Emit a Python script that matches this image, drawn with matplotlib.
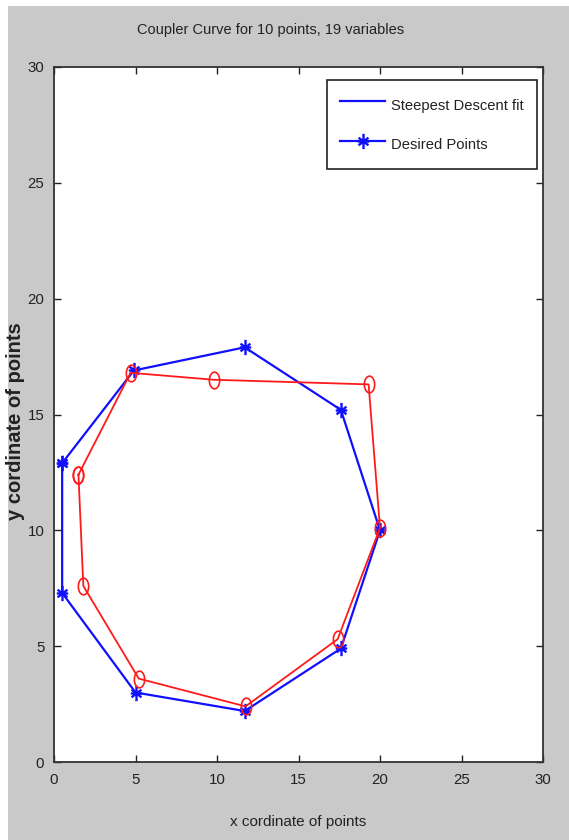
import matplotlib
matplotlib.use('Agg')
import matplotlib.pyplot as plt
import numpy as np
from matplotlib.lines import Line2D
from matplotlib.patches import Rectangle
from matplotlib.path import Path

# Desired points (blue, closed loop)
desired_x = [0.5, 4.9, 11.7, 17.6, 20.0, 17.6, 11.7, 5.0, 0.5, 0.5]
desired_y = [12.9, 16.9, 17.9, 15.2, 10.0, 4.9, 2.2, 3.0, 7.3, 12.9]

# Steepest descent fit (red, closed loop)
fit_x = [1.5, 4.7, 9.8, 19.3, 20.0, 17.4, 11.75, 5.2, 1.8, 1.5]
fit_y = [12.4, 16.8, 16.5, 16.3, 10.1, 5.3, 2.4, 3.6, 7.6, 12.4]

ticks = [0, 5, 10, 15, 20, 25, 30]
legend_labels = ['Steepest Descent fit', 'Desired Points']

font = ['Liberation Sans', 'DejaVu Sans']
grey = '#c9c9c9'
txt = '#222222'

fig = plt.figure(figsize=(5.69, 8.40), dpi=100)
fig.patch.set_facecolor('white')
# grey figure area (white strip on top and left as in the screenshot)
fig.patches.append(Rectangle((8 / 569, 0), 1, (840 - 6) / 840, transform=fig.transFigure,
                             facecolor=grey, edgecolor='none', zorder=-10))

ax = fig.add_axes([54 / 569, 78 / 840, 489 / 569, 695 / 840])

# vertically stretched markers (the screenshot is stretched)
t = np.linspace(0, 2 * np.pi, 40)
ellipse = Path(np.column_stack([0.62 * np.cos(t), np.sin(t)]), closed=True)
ast_verts = []
ast_codes = []
for ang in [90, 30, 150]:
    a = np.radians(ang)
    dx, dy = 0.75 * np.cos(a), np.sin(a)
    ast_verts += [(-dx, -dy), (dx, dy)]
    ast_codes += [Path.MOVETO, Path.LINETO]
ast_verts += [(-0.75, 0), (0.75, 0)]
ast_codes += [Path.MOVETO, Path.LINETO]
asterisk = Path(ast_verts, ast_codes)

ax.plot(desired_x, desired_y, color='#1010ff', lw=1.6, marker=asterisk, ms=11, mew=1.7)
ax.plot(fit_x, fit_y, color='#ff1a1a', lw=1.3, marker=ellipse, ms=12, mfc='none', mew=1.2)

ax.set_xlim(0, 30)
ax.set_ylim(0, 30)
ax.set_xticks(ticks)
ax.set_yticks(ticks)
ax.tick_params(direction='in', length=5, width=1, top=True, right=True,
               labelsize=10.8, colors=txt)
ax.tick_params(axis='y', pad=7)
ax.tick_params(axis='x', pad=8)
for lab in ax.get_xticklabels() + ax.get_yticklabels():
    lab.set_family(font)
for s in ax.spines.values():
    s.set_linewidth(1.3)
    s.set_color('#333333')

ax.set_title('Coupler Curve for 10 points, 19 variables', fontsize=10.5, family=font,
             color=txt, x=(271 - 54) / 489, y=(762 - 38) / 695, va='center')
ax.set_xlabel('x cordinate of points', fontsize=11, family=font, color=txt)
ax.xaxis.set_label_coords((298 - 54) / 489, (762 - 822) / 695)
ax.xaxis.label.set_va('center')
ax.set_ylabel('y cordinate of points', fontsize=14.5, family=font,
              fontweight='bold', color=txt)
ax.yaxis.set_label_coords((16 - 54) / 489, (762 - 421) / 695)
ax.yaxis.label.set_va('center')

handles = [Line2D([], [], color='#1010ff', lw=1.6),
           Line2D([], [], color='#1010ff', lw=1.6, marker=asterisk, ms=11, mew=1.7)]
leg = ax.legend(handles, legend_labels, loc='upper right', bbox_to_anchor=(0.988, 0.981),
                prop={'family': font, 'size': 10.6}, fancybox=False, framealpha=1,
                edgecolor='#222222', handlelength=3.0, handleheight=2.0,
                labelspacing=1.13, borderpad=0.9, handletextpad=0.45, borderaxespad=0)
leg.get_frame().set_linewidth(1.2)
for tx in leg.get_texts():
    tx.set_color(txt)

fig.savefig('out.png', dpi=100, facecolor=fig.get_facecolor())
